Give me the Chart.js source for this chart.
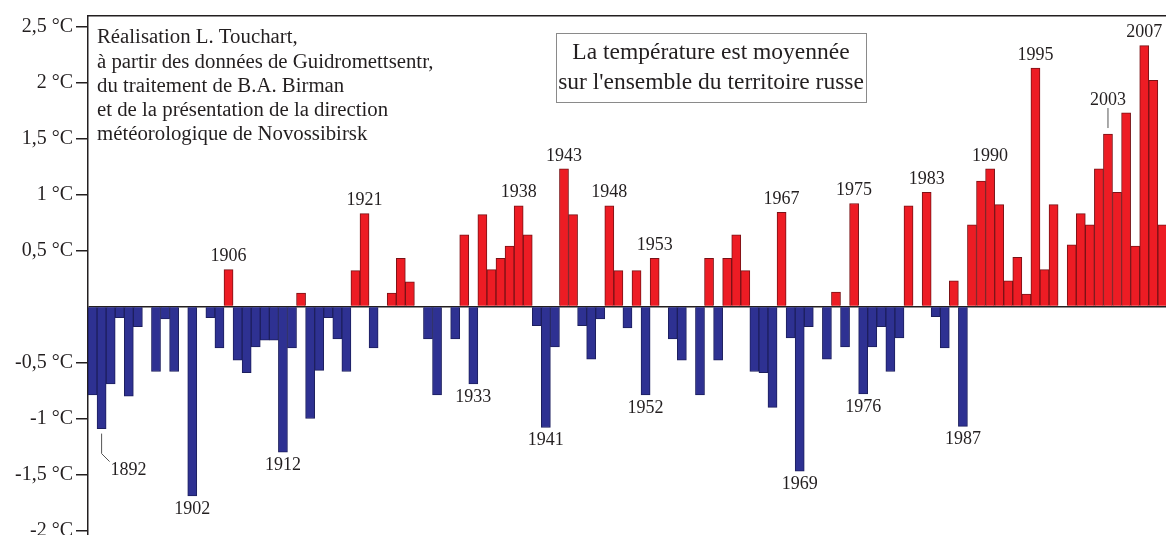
<!DOCTYPE html>
<html>
<head>
<meta charset="utf-8">
<script src="https://cdn.jsdelivr.net/npm/chart.js@4.4.1/dist/chart.umd.min.js"></script>
<style>
  html, body { margin: 0; padding: 0; background: #fff; overflow: hidden; }
  #wrap { width: 1166px; height: 535px; }
</style>
</head>
<body>
<div id="wrap"><canvas id="chart"></canvas></div>
<script>
// anomalies de température, Russie, 1891-2009 (°C)
const firstYear = 1891;
const anomalies = [
  -0.79, -1.09, -0.69, -0.10, -0.80, -0.18, 0, -0.58, -0.11, -0.58,   // 1891-1900
  0, -1.69, 0, -0.10, -0.37, 0.33, -0.48, -0.59, -0.36, -0.30,         // 1901-1910
  -0.30, -1.30, -0.37, 0.12, -1.00, -0.57, -0.10, -0.29, -0.58, 0.32,  // 1911-1920
  0.83, -0.37, 0, 0.12, 0.43, 0.22, 0, -0.29, -0.79, 0,                // 1921-1930
  -0.29, 0.64, -0.69, 0.82, 0.33, 0.43, 0.54, 0.90, 0.64, -0.17,       // 1931-1940
  -1.08, -0.36, 1.23, 0.82, -0.17, -0.47, -0.11, 0.90, 0.32, -0.19,    // 1941-1950
  0.32, -0.79, 0.43, 0, -0.29, -0.48, 0, -0.79, 0.43, -0.48,           // 1951-1960
  0.43, 0.64, 0.32, -0.58, -0.59, -0.90, 0.84, -0.28, -1.47, -0.18,    // 1961-1970
  0, -0.47, 0.13, -0.36, 0.92, -0.78, -0.36, -0.18, -0.58, -0.28,      // 1971-1980
  0.90, 0, 1.02, -0.09, -0.37, 0.23, -1.07, 0.73, 1.12, 1.23,          // 1981-1990
  0.91, 0.23, 0.44, 0.11, 2.13, 0.33, 0.91, 0, 0.55, 0.83,             // 1991-2000
  0.73, 1.23, 1.54, 1.02, 1.73, 0.54, 2.33, 2.02, 0.73                 // 2001-2009
];
const years = anomalies.map((v, i) => firstYear + i);

const labelledYears = [1892, 1902, 1906, 1912, 1921, 1933, 1938, 1941, 1943, 1948,
  1952, 1953, 1967, 1969, 1975, 1976, 1983, 1987, 1990, 1995, 2003, 2007];

const yTickValues = [-2, -1.5, -1, -0.5, 0, 0.5, 1, 1.5, 2, 2.5];
const yTickLabels = ['-2 °C', '-1,5 °C', '-1 °C', '-0,5 °C', '', '0,5 °C', '1 °C', '1,5 °C', '2 °C', '2,5 °C'];

const creditLines = [
  'Réalisation L. Touchart,',
  'à partir des données de Guidromettsentr,',
  'du traitement de B.A. Birman',
  'et de la présentation de la direction',
  'météorologique de Novossibirsk'
];
const noteLines = ['La température est moyennée', "sur l'ensemble du territoire russe"];

const RED = '#ed1c24', RED_EDGE = '#7a1216';
const BLUE = '#2e3192', BLUE_EDGE = '#1d1f5e';
const SERIF = '"Liberation Serif", "Times New Roman", serif';

const annotations = {
  id: 'annotations',
  afterDatasetsDraw(chart) {
    const ctx = chart.ctx;
    const xs = chart.scales.x, ys = chart.scales.y;
    ctx.save();
    ctx.fillStyle = '#231f20';
    ctx.strokeStyle = '#555';
    ctx.lineWidth = 1;
    ctx.font = '18px ' + SERIF;
    ctx.textAlign = 'center';
    ctx.textBaseline = 'middle';
    labelledYears.forEach(yr => {
      const v = anomalies[yr - firstYear];
      const x = xs.getPixelForValue(yr);
      const end = ys.getPixelForValue(v);
      if (yr === 1892) {
        ctx.beginPath();
        ctx.moveTo(x, end + 5);
        ctx.lineTo(x, end + 25);
        ctx.lineTo(x + 8, end + 33);
        ctx.stroke();
        ctx.fillText(String(yr), x + 27, end + 42);
      } else if (yr === 2003) {
        ctx.beginPath();
        ctx.moveTo(x, end - 6);
        ctx.lineTo(x, end - 26);
        ctx.stroke();
        ctx.fillText(String(yr), x, end - 34);
      } else if (v >= 0) {
        ctx.fillText(String(yr), x, end - 13);
      } else {
        ctx.fillText(String(yr), x, end + 13);
      }
    });

    // crédits en haut à gauche
    ctx.textAlign = 'left';
    ctx.font = '20.8px ' + SERIF;
    creditLines.forEach((t, i) => ctx.fillText(t, 97, 38 + i * 24.2));

    // encadré
    ctx.fillStyle = '#fff';
    ctx.fillRect(556, 33, 310, 69);
    ctx.strokeStyle = '#8a8a8a';
    ctx.strokeRect(556.5, 33.5, 310, 69);
    ctx.fillStyle = '#231f20';
    ctx.textAlign = 'center';
    ctx.font = '23.5px ' + SERIF;
    noteLines.forEach((t, i) => ctx.fillText(t, 711, 53 + i * 30));
    ctx.restore();
  }
};

new Chart(document.getElementById('chart'), {
  type: 'bar',
  data: {
    datasets: [{
      data: years.map((yr, i) => ({ x: yr, y: anomalies[i] })),
      backgroundColor: ctx => (ctx.raw && ctx.raw.y >= 0 ? RED : BLUE),
      borderColor: ctx => (ctx.raw && ctx.raw.y >= 0 ? RED_EDGE : BLUE_EDGE),
      borderWidth: 1,
      barPercentage: 1,
      categoryPercentage: 1
    }]
  },
  options: {
    responsive: true,
    maintainAspectRatio: false,
    animation: false,
    layout: { padding: { top: 16, right: 0, bottom: 0, left: 0 } },
    plugins: { legend: { display: false }, tooltip: { enabled: false } },
    scales: {
      x: {
        type: 'linear',
        position: 'top',
        min: 1890.5,
        max: 2009.4,
        offset: false,
        ticks: { display: false },
        grid: { display: false },
        border: { display: true, color: '#231f20', width: 1.5 },
        afterFit: s => { s.height = 0; }
      },
      y: {
        min: -2.04,
        max: 2.594,
        afterBuildTicks: s => { s.ticks = yTickValues.map(v => ({ value: v })); },
        afterFit: s => { s.width = 88; s.paddingTop = 0; s.paddingBottom = 0; },
        ticks: {
          autoSkip: false,
          padding: 3,
          color: '#231f20',
          font: { family: SERIF, size: 20 },
          callback: v => yTickLabels[yTickValues.indexOf(v)]
        },
        grid: {
          drawOnChartArea: true,
          tickLength: 12,
          lineWidth: 1.5,
          color: c => (c.tick && c.tick.value === 0 ? '#231f20' : 'rgba(0,0,0,0)'),
          tickColor: c => (c.tick && c.tick.value === 0 ? 'rgba(0,0,0,0)' : '#231f20')
        },
        border: { display: true, color: '#231f20', width: 1.5 }
      }
    }
  },
  plugins: [annotations]
});
</script>
</body>
</html>
